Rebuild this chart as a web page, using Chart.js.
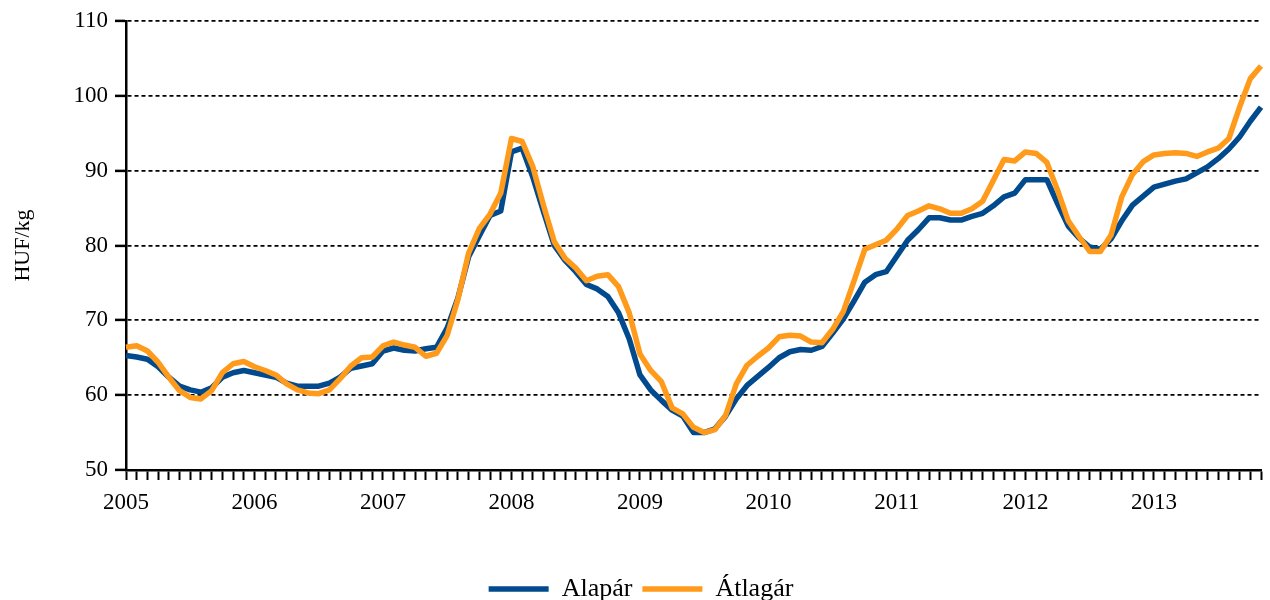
<!DOCTYPE html>
<html>
<head>
<meta charset="utf-8">
<script src="https://cdn.jsdelivr.net/npm/chart.js@4.4.1/dist/chart.umd.min.js"></script>
<style>
  html, body { margin: 0; padding: 0; background: #ffffff; }
  #wrap { width: 1270px; height: 600px; position: relative; }
</style>
</head>
<body>
<div id="wrap"><canvas id="c"></canvas></div>
<script>
// ---- data ----
const years = ['2005','2006','2007','2008','2009','2010','2011','2012','2013'];
const monthsInLastYear = 11;
const seriesNames = ['Alapár', 'Átlagár'];
const yTicks = [50, 60, 70, 80, 90, 100, 110];
const yTitle = 'HUF/kg';

const alapar = [
  65.3, 65.1, 64.8, 63.8, 62.4, 61.2, 60.7, 60.4, 61.0, 62.4, 63.0, 63.3,
  63.0, 62.7, 62.4, 61.6, 61.2, 61.2, 61.2, 61.6, 62.4, 63.6, 63.9, 64.2,
  65.9, 66.3, 66.0, 65.9, 66.2, 66.4, 69.0, 73.0, 78.5, 81.3, 84.0, 84.6,
  92.5, 93.0, 89.1, 84.5, 80.0, 78.0, 76.5, 74.8, 74.2, 73.2, 71.0, 67.5,
  62.7, 60.7, 59.3, 58.0, 57.2, 55.0, 55.0, 55.5, 57.2, 59.5, 61.3, 62.5,
  63.7, 65.0, 65.8, 66.1, 66.0, 66.5, 68.3, 70.2, 72.6, 75.1, 76.1, 76.5,
  78.6, 80.7, 82.1, 83.7, 83.7, 83.4, 83.4, 83.9, 84.3, 85.3, 86.5, 87.0,
  88.8, 88.8, 88.8, 85.6, 82.6, 81.0, 79.8, 79.5, 80.9, 83.3, 85.4, 86.6,
  87.8, 88.2, 88.6, 88.9, 89.7, 90.5, 91.6, 92.9, 94.5, 96.6, 98.5
];
const atlagar = [
  66.4, 66.6, 65.9, 64.4, 62.4, 60.6, 59.7, 59.5, 60.6, 63.0, 64.2, 64.5,
  63.8, 63.3, 62.7, 61.5, 60.7, 60.3, 60.2, 60.7, 62.2, 63.9, 65.0, 65.1,
  66.6, 67.1, 66.7, 66.4, 65.2, 65.6, 68.0, 72.8, 79.0, 82.3, 84.2, 87.0,
  94.3, 93.9, 90.5, 85.3, 80.5, 78.3, 77.0, 75.3, 75.9, 76.1, 74.5, 71.0,
  65.5, 63.3, 61.8, 58.3, 57.5, 55.7, 55.0, 55.4, 57.3, 61.5, 64.0, 65.2,
  66.3, 67.8, 68.0, 67.9, 67.1, 67.0, 68.8, 71.2, 75.3, 79.5, 80.1, 80.7,
  82.2, 84.0, 84.6, 85.3, 84.9, 84.3, 84.3, 84.9, 85.9, 88.7, 91.5, 91.3,
  92.5, 92.3, 91.1, 87.4, 83.3, 81.2, 79.2, 79.2, 81.4, 86.5, 89.5, 91.2,
  92.1, 92.3, 92.4, 92.3, 91.9, 92.5, 93.0, 94.3, 98.5, 102.3, 104.0
];

// month categories built from the years list
const categories = [];
years.forEach((y, yi) => {
  const n = (yi === years.length - 1) ? monthsInLastYear : 12;
  for (let m = 1; m <= n; m++) categories.push(y + '-' + String(m).padStart(2, '0'));
});

const FONT = '"Liberation Serif", "Times New Roman", serif';
const BLUE = '#004a8d';
const ORANGE = '#ff9a1a';

const legendShift = {
  id: 'legendShift',
  afterLayout(chart) {
    const l = chart.legend;
    if (!l) return;
    const dy = 12, dx = 8;
    l.top += dy; l.bottom += dy; l.left += dx; l.right += dx;
  }
};

new Chart(document.getElementById('c'), {
  type: 'line',
  data: {
    labels: categories,
    datasets: [
      { label: seriesNames[0], data: alapar, borderColor: BLUE, backgroundColor: BLUE,
        borderWidth: 5.5, pointRadius: 0, pointHoverRadius: 0, tension: 0,
        borderJoinStyle: 'round', pointStyle: 'line', order: 1 },
      { label: seriesNames[1], data: atlagar, borderColor: ORANGE, backgroundColor: ORANGE,
        borderWidth: 5.5, pointRadius: 0, pointHoverRadius: 0, tension: 0,
        borderJoinStyle: 'round', pointStyle: 'line', order: 0 }
    ]
  },
  options: {
    responsive: true,
    maintainAspectRatio: false,
    animation: false,
    layout: { padding: { top: 21, right: 4, left: 0, bottom: 0 } },
    plugins: {
      tooltip: { enabled: false },
      legend: {
        position: 'bottom',
        labels: {
          font: { family: FONT, size: 26 },
          color: '#000',
          usePointStyle: true,
          pointStyle: 'line',
          pointStyleWidth: 60,
          boxWidth: 60,
          boxHeight: 6,
          padding: 10,
          sort: (a, b) => a.datasetIndex - b.datasetIndex
        }
      }
    },
    scales: {
      x: {
        type: 'category',
        offset: false,
        afterFit(s) { s.height = 84; },
        border: { display: true, color: '#000', width: 2.5 },
        grid: { display: true, drawOnChartArea: false, drawTicks: true,
                tickLength: 10, tickWidth: 2, tickColor: '#000' },
        ticks: {
          autoSkip: false, maxRotation: 0, minRotation: 0,
          padding: 9, color: '#000',
          font: { family: FONT, size: 23 },
          callback: function (val, idx) {
            const lab = this.getLabelForValue(val);
            return lab.endsWith('-01') ? lab.slice(0, 4) : '';
          }
        }
      },
      y: {
        min: yTicks[0], max: yTicks[yTicks.length - 1],
        afterFit(s) { s.width = 126; },
        afterBuildTicks(s) { s.ticks = yTicks.map(v => ({ value: v })); },
        border: { display: true, color: '#000', width: 2.5, dash: [4, 3] },
        grid: { display: true, drawOnChartArea: true, drawTicks: true,
                color: (ctx) => (ctx.tick && ctx.tick.value === yTicks[0]) ? 'rgba(0,0,0,0)' : '#000',
                lineWidth: 1.8,
                tickLength: 11, tickWidth: 2.5, tickColor: '#000', tickBorderDash: [] },
        ticks: { padding: 7, color: '#000', font: { family: FONT, size: 23 } },
        title: { display: true, text: yTitle, color: '#000',
                 font: { family: FONT, size: 22 }, padding: { top: 10, bottom: 0 } }
      }
    }
  },
  plugins: [legendShift]
});
</script>
</body>
</html>
